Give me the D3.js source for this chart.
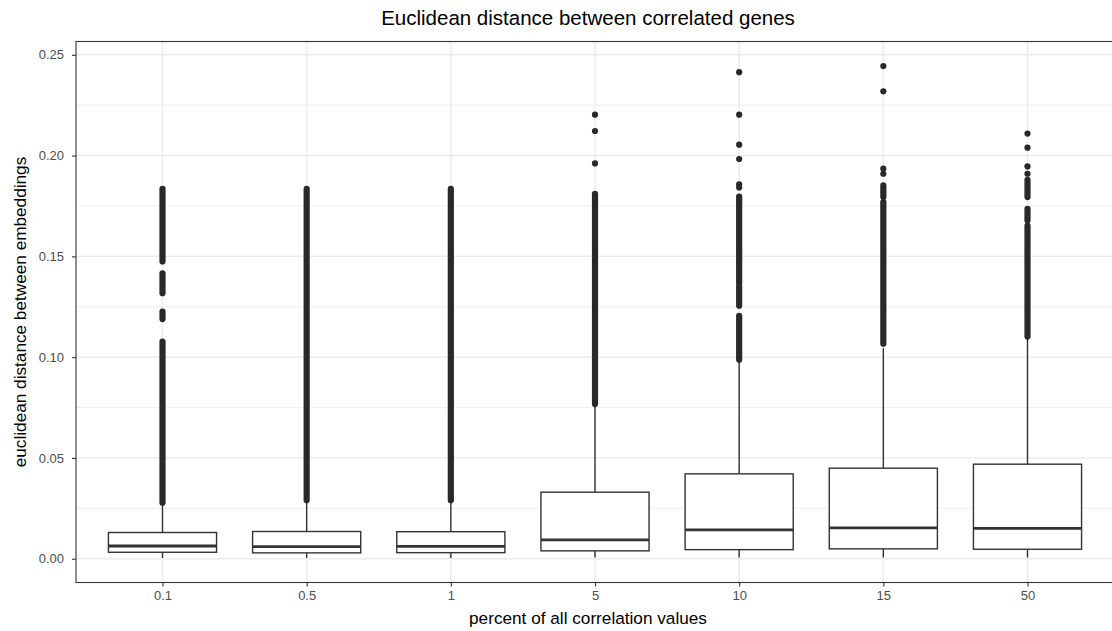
<!DOCTYPE html>
<html>
<head>
<meta charset="utf-8">
<script src="https://cdn.jsdelivr.net/npm/d3@7"></script>
<style>
  html, body { margin: 0; padding: 0; background: #ffffff; }
  svg { display: block; font-family: "Liberation Sans", Arial, Helvetica, sans-serif; }
</style>
</head>
<body>
<svg id="chart" width="1112" height="631"></svg>
<script>
// Categories (percent of all correlation values)
const categories = ["0.1", "0.5", "1", "5", "10", "15", "50"];

// Box-plot summary statistics per category
const lowerWhisker = [0.0004, 0.0004, 0.0004, 0.0006, 0.0006, 0.0006, 0.0006];
const q1           = [0.0032, 0.0029, 0.0030, 0.0039, 0.0045, 0.0049, 0.0047];
const median       = [0.0063, 0.0060, 0.0061, 0.0093, 0.0143, 0.0153, 0.0151];
const q3           = [0.0130, 0.0135, 0.0134, 0.0330, 0.0421, 0.0449, 0.0469];
const upperWhisker = [0.0270, 0.0284, 0.0284, 0.0760, 0.0980, 0.1045, 0.1095];

// Dense stretches of overlapping outliers: [highest, lowest] per stretch
const outlierRuns = [
  [[0.1835, 0.1475], [0.1416, 0.1317], [0.1226, 0.1189], [0.1077, 0.0278]],
  [[0.1835, 0.0290]],
  [[0.1835, 0.0290]],
  [[0.1810, 0.0767]],
  [[0.1797, 0.1365], [0.1350, 0.1255], [0.1205, 0.0987]],
  [[0.1852, 0.1794], [0.1769, 0.1067]],
  [[0.1880, 0.1794], [0.1736, 0.1678], [0.1653, 0.1102]]
];

// Isolated outliers
const outlierPoints = [
  [],
  [],
  [],
  [0.2203, 0.2122, 0.1961],
  [0.2414, 0.2203, 0.2054, 0.1983, 0.1857, 0.1842],
  [0.2444, 0.2319, 0.1935, 0.1910],
  [0.2109, 0.2039, 0.1946, 0.1910]
];

// Axis breaks
const yTicks = [0, 0.05, 0.10, 0.15, 0.20, 0.25];
const yTickLabels = ["0.00", "0.05", "0.10", "0.15", "0.20", "0.25"];
const yMinorTicks = [0.025, 0.075, 0.125, 0.175, 0.225];

const titleText = "Euclidean distance between correlated genes";
const xTitle = "percent of all correlation values";
const yTitle = "euclidean distance between embeddings";

// ---- layout ----
const svg = d3.select("#chart");
const panel = { left: 76, right: 1114, top: 41.5, bottom: 582.5 };

// ggplot-like expansion: 5% on continuous axis, 0.6 band on discrete axis
const allVals = lowerWhisker.concat(outlierPoints.flat(), outlierRuns.flat(2));
const yLo = d3.min(allVals), yHi = d3.max(allVals);
const pad = (yHi - yLo) * 0.05;
const y = d3.scaleLinear().domain([yLo - pad, yHi + pad]).range([panel.bottom, panel.top]);
const x = d3.scalePoint().domain(categories).range([panel.left, panel.right]).padding(0.6);
const boxW = x.step() * 0.75;

const gridCol = "#EBEBEB";
const ink = "#333333";

const plot = svg.append("g");

// clip to panel
svg.append("defs").append("clipPath").attr("id", "panelClip")
  .append("rect").attr("x", panel.left).attr("y", panel.top)
  .attr("width", panel.right - panel.left).attr("height", panel.bottom - panel.top);

const grid = plot.append("g").attr("clip-path", "url(#panelClip)");

// minor gridlines
grid.selectAll(".minor").data(yMinorTicks).join("line")
  .attr("x1", panel.left).attr("x2", panel.right)
  .attr("y1", d => y(d)).attr("y2", d => y(d))
  .attr("stroke", gridCol).attr("stroke-width", 0.8);

// major gridlines
grid.selectAll(".majorY").data(yTicks).join("line")
  .attr("x1", panel.left).attr("x2", panel.right)
  .attr("y1", d => y(d)).attr("y2", d => y(d))
  .attr("stroke", gridCol).attr("stroke-width", 1.5);

grid.selectAll(".majorX").data(categories).join("line")
  .attr("x1", d => x(d)).attr("x2", d => x(d))
  .attr("y1", panel.top).attr("y2", panel.bottom)
  .attr("stroke", gridCol).attr("stroke-width", 1.5);

// boxes
const data = categories.map((c, i) => ({
  c, lo: lowerWhisker[i], q1: q1[i], med: median[i], q3: q3[i], hi: upperWhisker[i],
  runs: outlierRuns[i], pts: outlierPoints[i]
}));

const boxes = plot.append("g").attr("clip-path", "url(#panelClip)");
const g = boxes.selectAll("g.box").data(data).join("g").attr("class", "box");

// whiskers
g.append("line")
  .attr("x1", d => x(d.c)).attr("x2", d => x(d.c))
  .attr("y1", d => y(d.q3)).attr("y2", d => y(d.hi))
  .attr("stroke", ink).attr("stroke-width", 1.4);
g.append("line")
  .attr("x1", d => x(d.c)).attr("x2", d => x(d.c))
  .attr("y1", d => y(d.q1)).attr("y2", d => y(d.lo))
  .attr("stroke", ink).attr("stroke-width", 1.4);

// box body
g.append("rect")
  .attr("x", d => x(d.c) - boxW / 2).attr("width", boxW)
  .attr("y", d => y(d.q3)).attr("height", d => y(d.q1) - y(d.q3))
  .attr("fill", "#ffffff").attr("stroke", ink).attr("stroke-width", 1.4);

// median
g.append("line")
  .attr("x1", d => x(d.c) - boxW / 2).attr("x2", d => x(d.c) + boxW / 2)
  .attr("y1", d => y(d.med)).attr("y2", d => y(d.med))
  .attr("stroke", ink).attr("stroke-width", 2.8);

// outliers: dense stretches as round-capped strokes of point diameter
const ptR = 3.1;
const ptCol = "#292929";
g.selectAll("line.run").data(d => d.runs.map(r => ({ c: d.c, hi: r[0], lo: r[1] }))).join("line")
  .attr("class", "run")
  .attr("x1", d => x(d.c)).attr("x2", d => x(d.c))
  .attr("y1", d => y(d.hi)).attr("y2", d => y(d.lo))
  .attr("stroke", ptCol).attr("stroke-width", ptR * 2).attr("stroke-linecap", "round");

g.selectAll("circle.pt").data(d => d.pts.map(v => ({ c: d.c, v }))).join("circle")
  .attr("class", "pt")
  .attr("cx", d => x(d.c)).attr("cy", d => y(d.v)).attr("r", ptR)
  .attr("fill", ptCol);

// panel border
plot.append("rect")
  .attr("x", panel.left).attr("y", panel.top)
  .attr("width", panel.right - panel.left).attr("height", panel.bottom - panel.top)
  .attr("fill", "none").attr("stroke", "#333333").attr("stroke-width", 1.1);

// axes
const tickFont = 13;
const yAxis = d3.axisLeft(y).tickValues(yTicks)
  .tickFormat((d, i) => yTickLabels[i]).tickSize(4).tickPadding(8);
const yG = svg.append("g").attr("transform", `translate(${panel.left},0)`).call(yAxis);
yG.select(".domain").remove();
yG.selectAll(".tick line").attr("stroke", ink).attr("stroke-width", 1.1);
yG.selectAll(".tick text").attr("fill", "#4D4D4D").attr("font-size", tickFont)
  .attr("font-family", "Liberation Sans, Arial, sans-serif");

const xAxis = d3.axisBottom(x).tickSize(4).tickPadding(4);
const xG = svg.append("g").attr("transform", `translate(0,${panel.bottom})`).call(xAxis);
xG.select(".domain").remove();
xG.selectAll(".tick line").attr("stroke", ink).attr("stroke-width", 1.1);
xG.selectAll(".tick text").attr("fill", "#4D4D4D").attr("font-size", tickFont)
  .attr("font-family", "Liberation Sans, Arial, sans-serif");

// titles
const midX = 588;
svg.append("text").attr("x", midX).attr("y", 25)
  .attr("text-anchor", "middle").attr("font-size", 20.5).attr("fill", "#000")
  .text(titleText);

svg.append("text").attr("x", midX).attr("y", 624)
  .attr("text-anchor", "middle").attr("font-size", 17.2).attr("fill", "#000")
  .text(xTitle);

svg.append("text")
  .attr("transform", `translate(26,${(panel.top + panel.bottom) / 2}) rotate(-90)`)
  .attr("text-anchor", "middle").attr("font-size", 17.2).attr("fill", "#000")
  .text(yTitle);
</script>
</body>
</html>
